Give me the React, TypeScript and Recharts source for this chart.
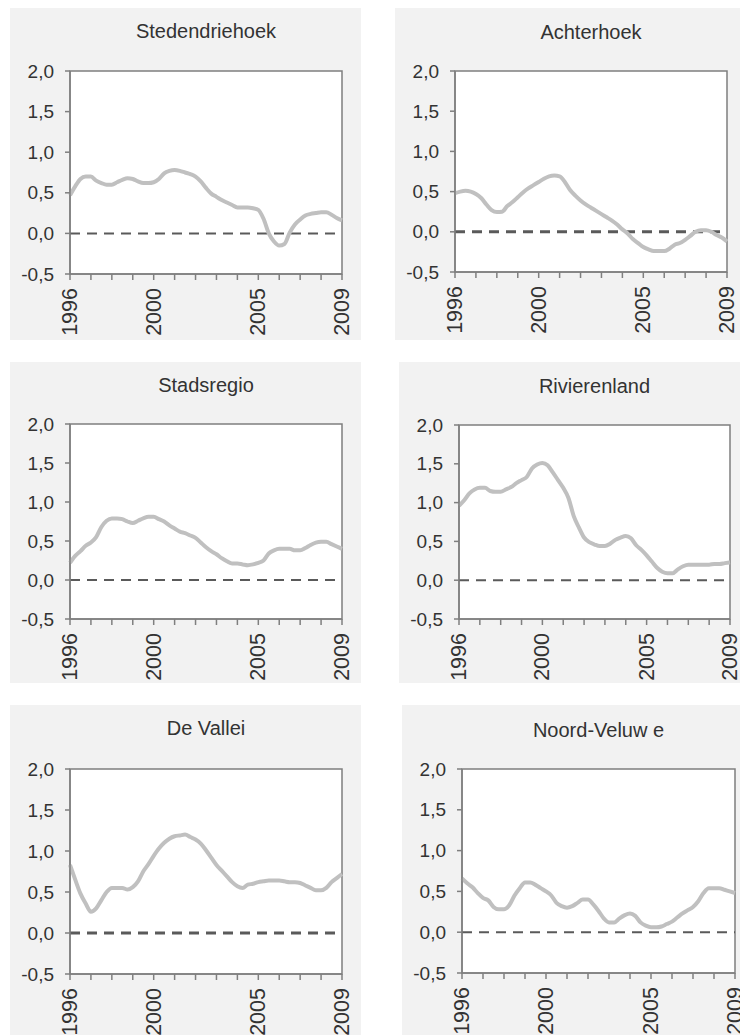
import React from 'react';
import { LineChart, Line, XAxis, YAxis, ReferenceLine, ReferenceArea } from 'recharts';

// quarterly observations, 1996 Q1 .. 2009 Q1
const quarters = Array.from({ length: 53 }, (_, i) => 1996 + i / 4);

const yearTicks = [1996, 1997, 1998, 1999, 2000, 2001, 2002, 2003, 2004, 2005, 2006, 2007, 2008, 2009];
const labeledYears = [1996, 2000, 2005, 2009];
const yTicks = [-0.5, 0, 0.5, 1, 1.5, 2];

const stedendriehoek = [
    0.47, 0.58, 0.67, 0.70, 0.70, 0.65, 0.62, 0.60, 0.60, 0.63, 0.66, 0.68,
    0.67, 0.64, 0.62, 0.62, 0.63, 0.67, 0.74, 0.77, 0.78, 0.77, 0.75, 0.73,
    0.70, 0.64, 0.56, 0.49, 0.45, 0.41, 0.38, 0.35, 0.32, 0.32, 0.32, 0.31,
    0.29, 0.18, 0.00, -0.10, -0.15, -0.13, 0.01, 0.11, 0.17, 0.22, 0.24, 0.25,
    0.26, 0.26, 0.23, 0.19, 0.16,
];
const achterhoek = [
    0.48, 0.50, 0.51, 0.50, 0.47, 0.42, 0.34, 0.27, 0.245, 0.25, 0.32, 0.37,
    0.43, 0.49, 0.54, 0.58, 0.62, 0.66, 0.69, 0.70, 0.69, 0.62, 0.52, 0.45,
    0.39, 0.34, 0.30, 0.26, 0.22, 0.18, 0.14, 0.09, 0.03, -0.02, -0.09, -0.14,
    -0.19, -0.22, -0.24, -0.24, -0.24, -0.21, -0.16, -0.14, -0.10, -0.05, 0.00, 0.02,
    0.02, 0.00, -0.04, -0.07, -0.12,
];
const stadsregio = [
    0.22, 0.31, 0.37, 0.44, 0.48, 0.55, 0.68, 0.76, 0.79, 0.79, 0.78, 0.75,
    0.73, 0.76, 0.79, 0.81, 0.81, 0.78, 0.75, 0.70, 0.66, 0.62, 0.60, 0.57,
    0.54, 0.48, 0.42, 0.37, 0.33, 0.28, 0.24, 0.21, 0.21, 0.20, 0.19, 0.20,
    0.22, 0.25, 0.34, 0.38, 0.40, 0.40, 0.40, 0.38, 0.38, 0.41, 0.45, 0.48,
    0.49, 0.49, 0.46, 0.43, 0.40,
];
const rivierenland = [
    0.96, 1.03, 1.12, 1.17, 1.19, 1.19, 1.15, 1.14, 1.14, 1.17, 1.20, 1.25,
    1.29, 1.33, 1.44, 1.49, 1.51, 1.48, 1.39, 1.29, 1.19, 1.06, 0.83, 0.68,
    0.55, 0.49, 0.46, 0.44, 0.44, 0.47, 0.52, 0.55, 0.57, 0.54, 0.45, 0.39,
    0.32, 0.24, 0.16, 0.11, 0.09, 0.09, 0.14, 0.18, 0.20, 0.20, 0.20, 0.20,
    0.20, 0.21, 0.21, 0.22, 0.23,
];
const deVallei = [
    0.83, 0.65, 0.48, 0.36, 0.26, 0.30, 0.40, 0.50, 0.55, 0.55, 0.55, 0.53,
    0.56, 0.63, 0.75, 0.84, 0.94, 1.03, 1.10, 1.15, 1.18, 1.19, 1.20, 1.17,
    1.14, 1.09, 1.01, 0.92, 0.83, 0.76, 0.69, 0.62, 0.57, 0.55, 0.59, 0.60,
    0.62, 0.63, 0.64, 0.64, 0.64, 0.63, 0.62, 0.62, 0.61, 0.58, 0.55, 0.52,
    0.52, 0.55, 0.62, 0.67, 0.72,
];
const noordVeluwe = [
    0.66, 0.60, 0.55, 0.48, 0.42, 0.39, 0.31, 0.28, 0.28, 0.33, 0.45, 0.54,
    0.61, 0.61, 0.58, 0.54, 0.50, 0.45, 0.36, 0.32, 0.30, 0.32, 0.36, 0.40,
    0.40, 0.34, 0.26, 0.17, 0.12, 0.12, 0.17, 0.21, 0.23, 0.20, 0.12, 0.08,
    0.06, 0.06, 0.07, 0.10, 0.13, 0.18, 0.23, 0.27, 0.31, 0.38, 0.48, 0.54,
    0.54, 0.54, 0.52, 0.50, 0.48,
];

const FONT = '"Liberation Sans", Arial, sans-serif';
const TEXT = '#333333';
const AXIS = '#7f7f7f';

interface PanelDef {
    title: string;
    values: number[];
    left: number; top: number; width: number; height: number;
    margin: { top: number; right: number; bottom: number; left: number };
    titleTop: number;
    dashWidth: number;
}

const panels: PanelDef[] = [
    { title: 'Stedendriehoek', values: stedendriehoek, left: 10, top: 8, width: 351, height: 332, margin: { top: 63, right: 19, bottom: 6, left: 10 }, titleTop: 13, dashWidth: 2 },
    { title: 'Achterhoek', values: achterhoek, left: 395, top: 8, width: 345, height: 332, margin: { top: 63, right: 13, bottom: 8, left: 10 }, titleTop: 14, dashWidth: 3 },
    { title: 'Stadsregio', values: stadsregio, left: 10, top: 362, width: 351, height: 321, margin: { top: 62, right: 19, bottom: 4, left: 10 }, titleTop: 13, dashWidth: 2 },
    { title: 'Rivierenland', values: rivierenland, left: 399, top: 362, width: 341, height: 321, margin: { top: 63, right: 10, bottom: 4, left: 10 }, titleTop: 14, dashWidth: 2 },
    { title: 'De Vallei', values: deVallei, left: 10, top: 705, width: 351, height: 330, margin: { top: 64, right: 19, bottom: 1, left: 10 }, titleTop: 13, dashWidth: 3 },
    { title: 'Noord-Veluw e', values: noordVeluwe, left: 402, top: 705, width: 338, height: 330, margin: { top: 64, right: 5, bottom: 2, left: 10 }, titleTop: 15, dashWidth: 2 },
];

const YearTick = (props: any) => {
    const { x, y, payload } = props;
    if (!labeledYears.includes(payload.value)) return null;
    return (
        <g transform={`translate(${x},${y + 8}) rotate(-90)`}>
            <text x={0} y={0} textAnchor="end" dominantBaseline="central" fill={TEXT} fontSize={21.5} fontFamily={FONT}>
                {payload.value}
            </text>
        </g>
    );
};

const ValueTick = (props: any) => {
    const { x, y, payload } = props;
    return (
        <text x={x} y={y} textAnchor="end" dominantBaseline="central" fill={TEXT} fontSize={19} fontFamily={FONT}>
            {payload.value.toFixed(1).replace('.', ',')}
        </text>
    );
};

const Panel: React.FC<{ p: PanelDef }> = ({ p }) => {
    const data = quarters.map((q, i) => ({ q, v: p.values[i] }));
    const plotLeft = p.margin.left + 50;
    const plotWidth = p.width - plotLeft - p.margin.right;
    return (
        <div style={{ position: 'absolute', left: p.left, top: p.top, width: p.width, height: p.height, background: '#f2f2f2' }}>
            <div style={{ position: 'absolute', left: plotLeft, top: p.titleTop, width: plotWidth, textAlign: 'center', fontFamily: FONT, fontSize: 20, lineHeight: '20px', color: TEXT }}>
                {p.title}
            </div>
            <LineChart width={p.width} height={p.height} data={data} margin={p.margin}>
                <ReferenceArea x1={1996} x2={2009} y1={-0.5} y2={2} fill="#ffffff" fillOpacity={1} stroke={AXIS} strokeWidth={1.5} ifOverflow="visible" />
                <XAxis
                    dataKey="q"
                    type="number"
                    domain={[1996, 2009]}
                    ticks={yearTicks}
                    interval={0}
                    height={60}
                    tickSize={6}
                    tickMargin={0}
                    stroke={AXIS}
                    strokeWidth={1.5}
                    tickLine={{ stroke: AXIS, strokeWidth: 1.5 }}
                    tick={<YearTick />}
                />
                <YAxis
                    type="number"
                    domain={[-0.5, 2]}
                    ticks={yTicks}
                    interval={0}
                    width={50}
                    tickSize={5}
                    tickMargin={11}
                    stroke={AXIS}
                    strokeWidth={1.5}
                    tickLine={{ stroke: AXIS, strokeWidth: 1.5 }}
                    tick={<ValueTick />}
                />
                <ReferenceLine y={0} stroke="#5a5a5a" strokeWidth={p.dashWidth} strokeDasharray="10 7" />
                <Line type="monotone" dataKey="v" stroke="#c0c0c0" strokeWidth={4} dot={false} isAnimationActive={false} strokeLinejoin="round" />
            </LineChart>
        </div>
    );
};

export default function App() {
    return (
        <div style={{ position: 'absolute', left: 0, top: 0, width: 740, height: 1035, background: '#ffffff', overflow: 'hidden' }}>
            {panels.map(p => <Panel key={p.title} p={p} />)}
        </div>
    );
}
